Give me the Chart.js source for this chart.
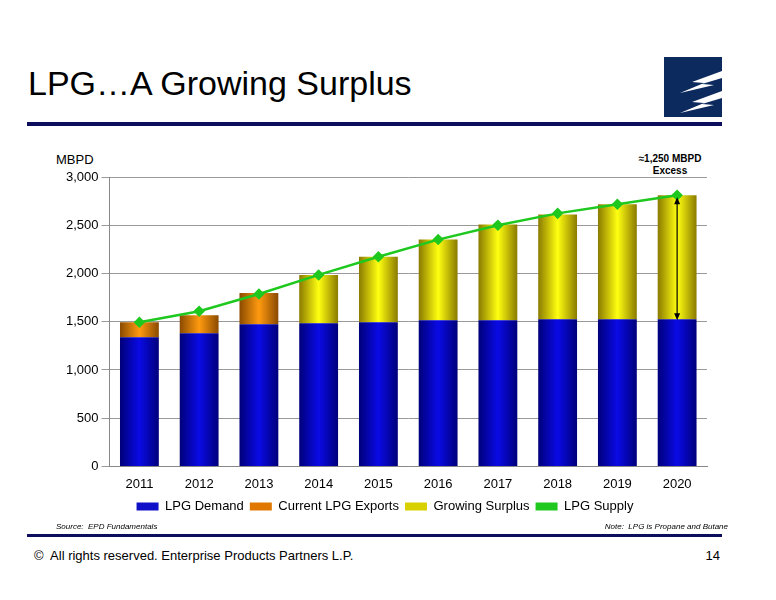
<!DOCTYPE html>
<html><head><meta charset="utf-8">
<script src="https://cdn.jsdelivr.net/npm/chart.js@4/dist/chart.umd.min.js"></script>
<style>
body{margin:0;width:776px;height:600px;background:#fff;font-family:"Liberation Sans",Arial,sans-serif;position:relative;overflow:hidden}
.abs{position:absolute}
</style></head><body>
<div class="abs" style="left:28px;top:64px;font-size:34px;color:#000">LPG…A Growing Surplus</div>
<div class="abs" style="left:664px;top:57px;width:58px;height:60px;background:#0d2a5e">
<svg width="58" height="60"><polygon points="58,14 28,25 40,26 16,36 50,28 38,27 58,21" fill="#fff"/><polygon points="58,34 28,45 40,46 16,56 50,48 38,47 58,41" fill="#fff"/></svg></div>
<div class="abs" style="left:27px;top:122px;width:695px;height:4px;background:#0d0d5e"></div>
<div class="abs" style="left:56px;top:152px;font-size:13px">MBPD</div>
<div class="abs" style="left:620px;top:153px;width:100px;text-align:center;font-size:10px;font-weight:bold;line-height:12px">≈1,250 MBPD<br>Excess</div>
<div class="abs" style="left:40px;top:140px;width:690px;height:383px"><canvas id="c"></canvas></div>
<div class="abs" style="left:56px;top:522px;font-size:8px;font-style:italic">Source:&nbsp; EPD Fundamentals</div>
<div class="abs" style="left:540px;top:522px;width:188px;text-align:right;font-size:8px;font-style:italic">Note:&nbsp; LPG is Propane and Butane</div>
<div class="abs" style="left:27px;top:534px;width:695px;height:3px;background:#0d0d5e"></div>
<div class="abs" style="left:34px;top:548px;font-size:13px">©&nbsp; All rights reserved. Enterprise Products Partners L.P.</div>
<div class="abs" style="left:690px;top:548px;width:30px;text-align:right;font-size:13px">14</div>
<script>
const years=['2011','2012','2013','2014','2015','2016','2017','2018','2019','2020'];
const demand=[1338,1380,1473,1484,1494,1515,1515,1526,1526,1526];
const exportsLPG=[156,187,324,0,0,0,0,0,0,0];
const surplus=[0,0,0,501,679,836,993,1086,1191,1285];
const supply=[1494,1609,1787,1985,2173,2351,2500,2623,2717,2811];

function grad(stops){
  return function(ctx){
    const ch=ctx.chart, xs=ch.scales.x;
    if(!xs||ctx.dataIndex===undefined) return stops[1];
    const cx=xs.getPixelForValue(ctx.dataIndex), w=xs.width/years.length*0.65;
    const g=ch.ctx.createLinearGradient(cx-w/2,0,cx+w/2,0);
    g.addColorStop(0,stops[0]);g.addColorStop(0.5,stops[1]);g.addColorStop(1,stops[0]);
    return g;
  };
}
const arrowPlugin={id:'arrow',afterDatasetsDraw(ch){
  const x=ch.scales.x,y=ch.scales.y,c=ch.ctx,i=years.length-1;
  const px=x.getPixelForValue(i),y1=y.getPixelForValue(supply[i]),y2=y.getPixelForValue(demand[i]);
  c.save();c.strokeStyle='#000';c.fillStyle='#000';c.lineWidth=1.2;
  c.beginPath();c.moveTo(px,y1+6);c.lineTo(px,y2-2);c.stroke();
  c.beginPath();c.moveTo(px,y1+2);c.lineTo(px-3,y1+9);c.lineTo(px+3,y1+9);c.fill();
  c.beginPath();c.moveTo(px,y2+1);c.lineTo(px-3,y2-6);c.lineTo(px+3,y2-6);c.fill();
  c.restore();
}};
new Chart(document.getElementById('c'),{
  data:{labels:years,datasets:[
    {type:'line',label:'LPG Supply',data:supply,borderColor:'#1ec81e',backgroundColor:'#1ec81e',borderWidth:2.5,pointStyle:'rectRot',pointRadius:4,order:0},
    {type:'bar',label:'LPG Demand',data:demand,backgroundColor:grad(['#00007a','#0a0ae6']),stack:'s',order:1},
    {type:'bar',label:'Current LPG Exports',data:exportsLPG,backgroundColor:grad(['#8a4a00','#ff9a10']),stack:'s',order:1},
    {type:'bar',label:'Growing Surplus',data:surplus,backgroundColor:grad(['#8a7a00','#ffff10']),stack:'s',order:1}
  ]},
  options:{responsive:true,maintainAspectRatio:false,animation:false,
    layout:{padding:{top:37,right:23,left:23,bottom:0}},
    scales:{
      x:{stacked:true,grid:{display:false},border:{color:'#888'},ticks:{color:'#000',padding:2,font:{size:13,family:'Liberation Sans'}}},
      y:{stacked:true,min:0,max:3000,ticks:{stepSize:500,color:'#000',font:{size:13,family:'Liberation Sans'},callback:v=>v.toLocaleString('en-US')},grid:{color:'#999'},border:{color:'#888'}}
    },
    datasets:{bar:{categoryPercentage:1,barPercentage:0.65}},
    plugins:{legend:{position:'bottom',labels:{color:'#000',font:{size:13,family:'Liberation Sans'},boxWidth:22,boxHeight:8,padding:6,
      sort:(a,b)=>[1,2,3,0].indexOf(a.datasetIndex)-[1,2,3,0].indexOf(b.datasetIndex),
      generateLabels(ch){const cols=['#1ec81e','#1010c8','#e07800','#d8d000'];return ch.data.datasets.map((d,i)=>({text:d.label,fillStyle:cols[i],strokeStyle:cols[i],lineWidth:0,datasetIndex:i}));}}},
      tooltip:{enabled:false}}
  },
  plugins:[arrowPlugin]
});
</script></body></html>
